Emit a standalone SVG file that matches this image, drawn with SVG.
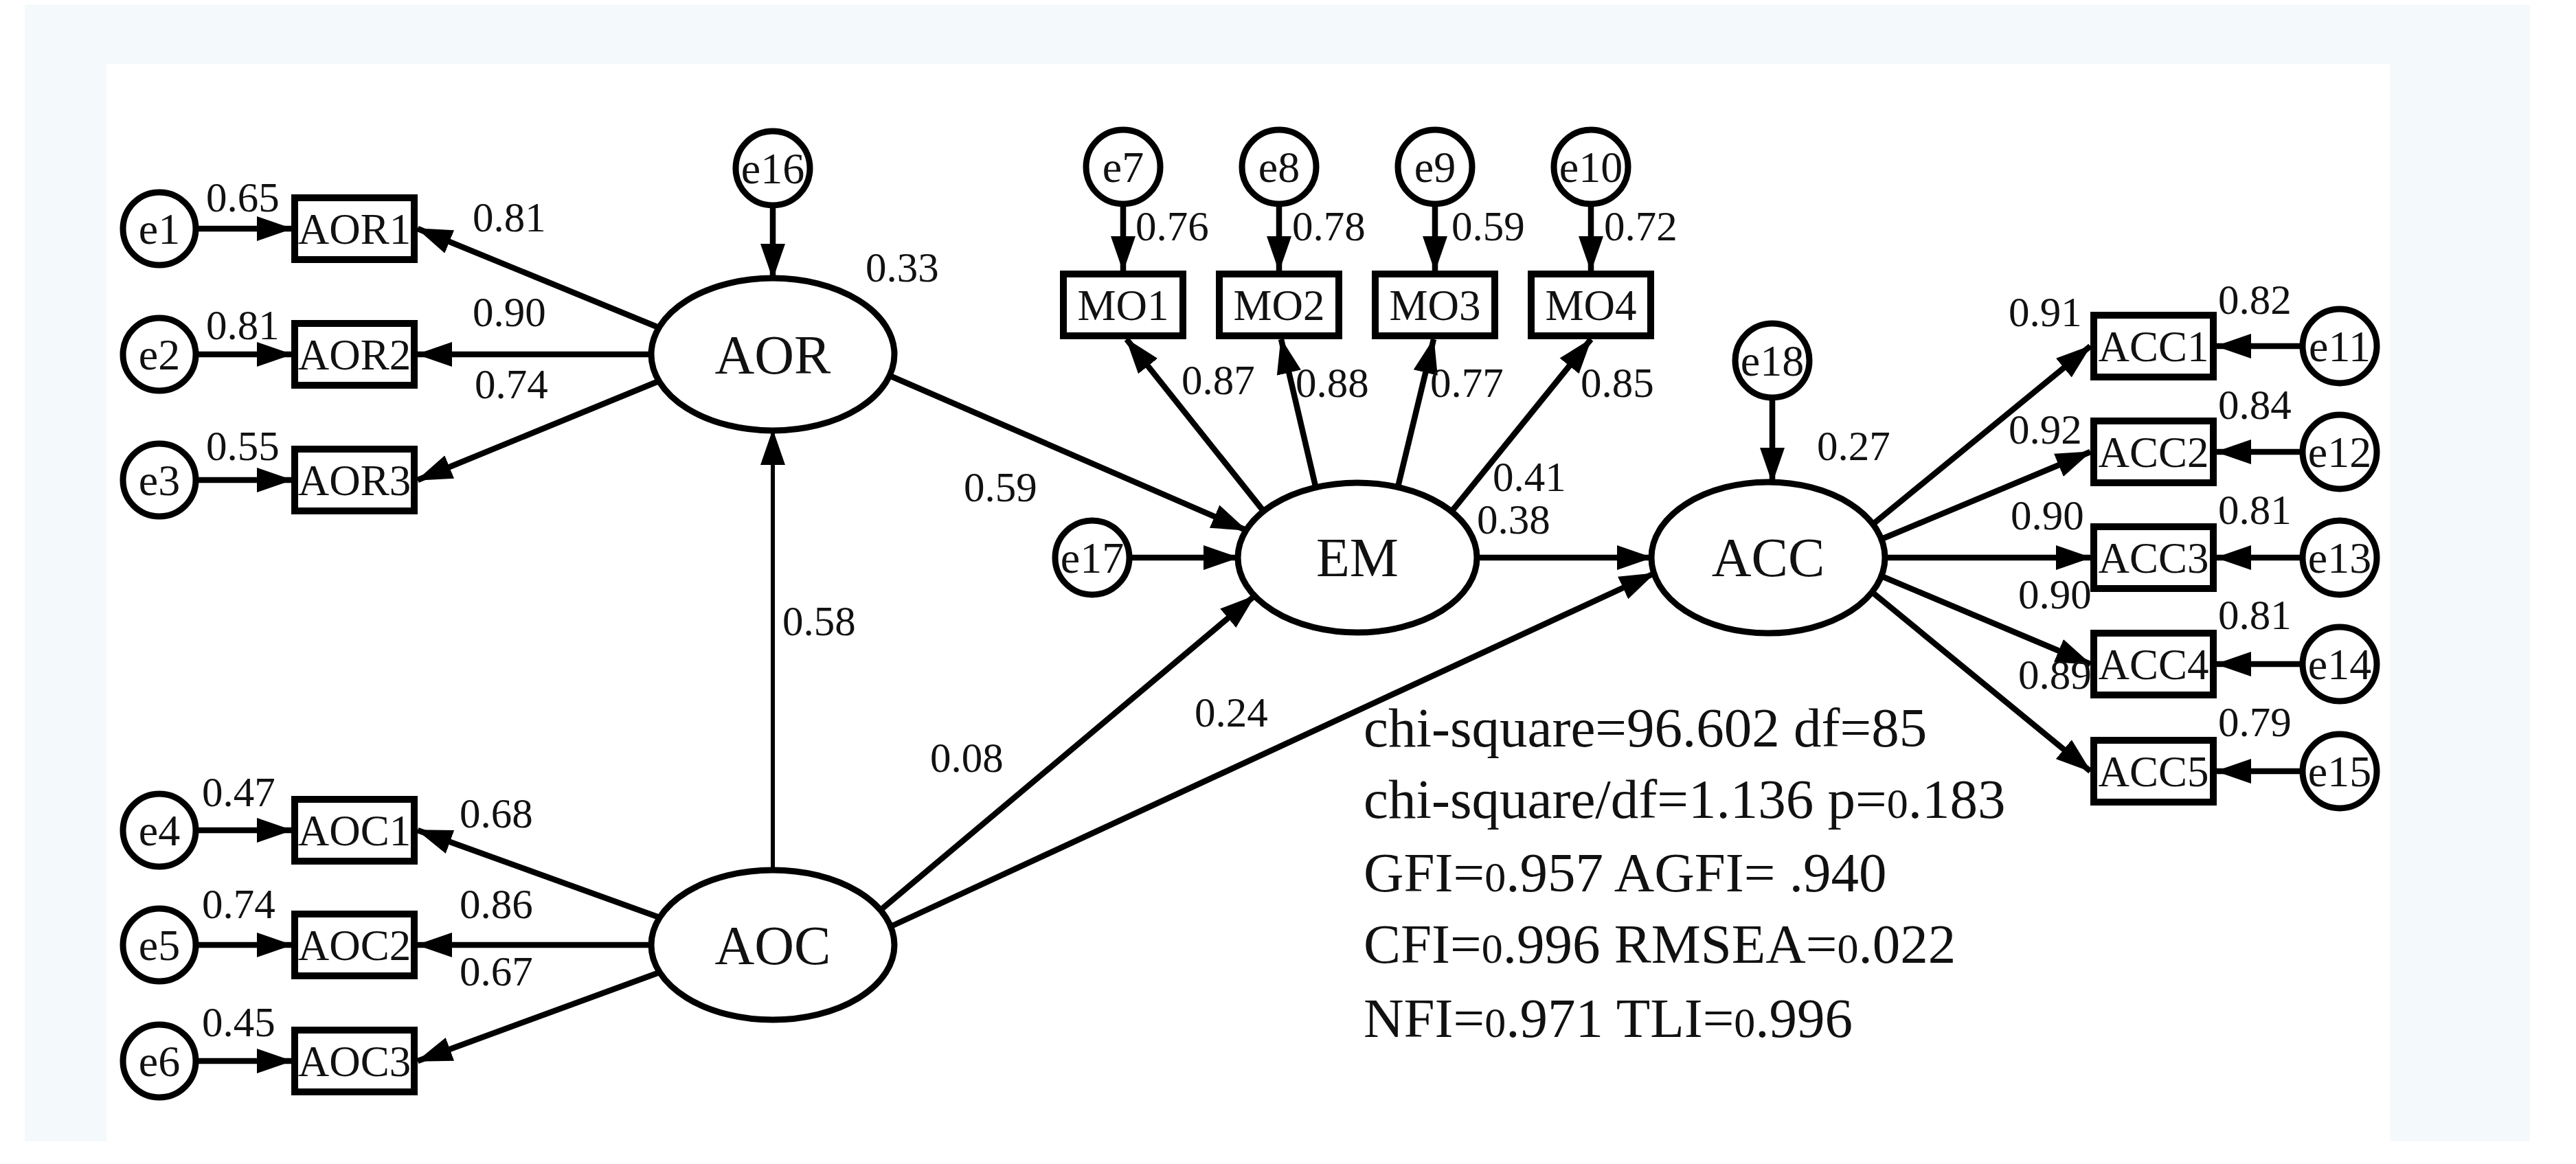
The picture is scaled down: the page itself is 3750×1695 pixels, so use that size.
<svg xmlns="http://www.w3.org/2000/svg" width="3750" height="1695" viewBox="0 0 3750 1695">
<defs>
<marker id="ah" markerUnits="userSpaceOnUse" markerWidth="52" markerHeight="38" refX="50" refY="19" orient="auto">
<path d="M0,1 L52,19 L0,37 z" fill="#000"/>
</marker>
<style>
text{font-family:"Liberation Serif","Times New Roman",serif;fill:#111}
.ev{font-size:64px;text-anchor:middle}
.bx{font-size:63px;text-anchor:middle}
.lt{font-size:80px;text-anchor:middle}
.n{font-size:61px}
.st{font-size:81px}
.sm{font-size:62px}
.c{fill:#fff;stroke:#000;stroke-width:9}
.r{fill:#fff;stroke:#000;stroke-width:10}
.el{fill:#fff;stroke:#000;stroke-width:9}
#conn line{stroke:#000;stroke-width:8.5;marker-end:url(#ah)}
</style>
</defs>
<rect width="3750" height="1695" fill="#fff"/>
<rect x="36" y="7" width="3647" height="1655" fill="#f4f9fc"/>
<rect x="155" y="93" width="3324" height="1602" fill="#fff"/>

<g id="conn">
<line x1="286" y1="333" x2="424" y2="333"/>
<line x1="286" y1="516" x2="424" y2="516"/>
<line x1="286" y1="699" x2="424" y2="699"/>
<line x1="286" y1="1209" x2="424" y2="1209"/>
<line x1="286" y1="1376" x2="424" y2="1376"/>
<line x1="286" y1="1545" x2="424" y2="1545"/>
<line x1="959" y1="477" x2="608" y2="333"/>
<line x1="948" y1="516" x2="608" y2="516"/>
<line x1="959" y1="555" x2="608" y2="699"/>
<line x1="960" y1="1336" x2="608" y2="1209"/>
<line x1="948" y1="1376" x2="608" y2="1376"/>
<line x1="960" y1="1416" x2="608" y2="1545"/>
<line x1="1125" y1="1267" x2="1125" y2="627" style="stroke-width:6"/>
<line x1="1125" y1="299" x2="1125" y2="405"/>
<line x1="1295" y1="547" x2="1814" y2="772"/>
<line x1="1644" y1="812" x2="1802" y2="812"/>
<line x1="1282" y1="1325" x2="1826" y2="868"/>
<line x1="1297" y1="1349" x2="2408" y2="835"/>
<line x1="2150" y1="812" x2="2404" y2="812"/>
<line x1="2580" y1="579" x2="2580" y2="702"/>
<line x1="2728" y1="762" x2="3043" y2="504"/>
<line x1="2739" y1="785" x2="3043" y2="658"/>
<line x1="2744" y1="812" x2="3043" y2="812"/>
<line x1="2739" y1="839" x2="3043" y2="967"/>
<line x1="2725" y1="862" x2="3043" y2="1123"/>
<line x1="3352" y1="504" x2="3227" y2="504"/>
<line x1="3352" y1="658" x2="3227" y2="658"/>
<line x1="3352" y1="812" x2="3227" y2="812"/>
<line x1="3352" y1="967" x2="3227" y2="967"/>
<line x1="3352" y1="1123" x2="3227" y2="1123"/>
<line x1="1840" y1="745" x2="1640" y2="494"/>
<line x1="1915" y1="708" x2="1865" y2="494"/>
<line x1="2035" y1="709" x2="2087" y2="494"/>
<line x1="2113" y1="745" x2="2316" y2="494"/>
<line x1="1635" y1="297" x2="1635" y2="394"/>
<line x1="1862" y1="297" x2="1862" y2="394"/>
<line x1="2089" y1="297" x2="2089" y2="394"/>
<line x1="2316" y1="297" x2="2316" y2="394"/>
</g>

<g id="e1"><circle class="c" cx="232" cy="333" r="53"/><text class="ev" x="232" y="355">e1</text></g>
<g id="e2"><circle class="c" cx="232" cy="516" r="53"/><text class="ev" x="232" y="538">e2</text></g>
<g id="e3"><circle class="c" cx="232" cy="699" r="53"/><text class="ev" x="232" y="721">e3</text></g>
<g id="e4"><circle class="c" cx="232" cy="1209" r="53"/><text class="ev" x="232" y="1231">e4</text></g>
<g id="e5"><circle class="c" cx="232" cy="1376" r="53"/><text class="ev" x="232" y="1398">e5</text></g>
<g id="e6"><circle class="c" cx="232" cy="1545" r="53"/><text class="ev" x="232" y="1567">e6</text></g>

<g id="AOR1"><rect class="r" x="429" y="288" width="174" height="90"/><text class="bx" x="516" y="355">AOR1</text></g>
<g id="AOR2"><rect class="r" x="429" y="471" width="174" height="90"/><text class="bx" x="516" y="538">AOR2</text></g>
<g id="AOR3"><rect class="r" x="429" y="654" width="174" height="90"/><text class="bx" x="516" y="721">AOR3</text></g>
<g id="AOC1"><rect class="r" x="429" y="1164" width="174" height="90"/><text class="bx" x="516" y="1231">AOC1</text></g>
<g id="AOC2"><rect class="r" x="429" y="1331" width="174" height="90"/><text class="bx" x="516" y="1398">AOC2</text></g>
<g id="AOC3"><rect class="r" x="429" y="1500" width="174" height="90"/><text class="bx" x="516" y="1567">AOC3</text></g>

<g id="AOR"><ellipse class="el" cx="1125" cy="516" rx="177" ry="111"/><text class="lt" x="1125" y="544">AOR</text></g>
<g id="AOC"><ellipse class="el" cx="1125" cy="1376" rx="177" ry="109"/><text class="lt" x="1125" y="1404">AOC</text></g>
<g id="e16"><circle class="c" cx="1125" cy="245" r="54"/><text class="ev" x="1125" y="267">e16</text></g>

<g id="MO1"><rect class="r" x="1548" y="399" width="174" height="90"/><text class="bx" x="1635" y="466">MO1</text></g>
<g id="MO2"><rect class="r" x="1775" y="399" width="174" height="90"/><text class="bx" x="1862" y="466">MO2</text></g>
<g id="MO3"><rect class="r" x="2002" y="399" width="174" height="90"/><text class="bx" x="2089" y="466">MO3</text></g>
<g id="MO4"><rect class="r" x="2229" y="399" width="174" height="90"/><text class="bx" x="2316" y="466">MO4</text></g>
<g id="e7"><circle class="c" cx="1635" cy="243" r="54"/><text class="ev" x="1635" y="265">e7</text></g>
<g id="e8"><circle class="c" cx="1862" cy="243" r="54"/><text class="ev" x="1862" y="265">e8</text></g>
<g id="e9"><circle class="c" cx="2089" cy="243" r="54"/><text class="ev" x="2089" y="265">e9</text></g>
<g id="e10"><circle class="c" cx="2316" cy="243" r="54"/><text class="ev" x="2316" y="265">e10</text></g>

<g id="EM"><ellipse class="el" cx="1976" cy="812" rx="174" ry="109"/><text class="lt" x="1976" y="839">EM</text></g>
<g id="e17"><circle class="c" cx="1590" cy="812" r="54"/><text class="ev" x="1590" y="834">e17</text></g>
<g id="ACC"><ellipse class="el" cx="2574" cy="812" rx="170" ry="110"/><text class="lt" x="2574" y="839">ACC</text></g>
<g id="e18"><circle class="c" cx="2580" cy="525" r="54"/><text class="ev" x="2580" y="547">e18</text></g>

<g id="ACC1"><rect class="r" x="3048" y="459" width="174" height="90"/><text class="bx" x="3135" y="526">ACC1</text></g>
<g id="ACC2"><rect class="r" x="3048" y="613" width="174" height="90"/><text class="bx" x="3135" y="680">ACC2</text></g>
<g id="ACC3"><rect class="r" x="3048" y="767" width="174" height="90"/><text class="bx" x="3135" y="834">ACC3</text></g>
<g id="ACC4"><rect class="r" x="3048" y="922" width="174" height="90"/><text class="bx" x="3135" y="989">ACC4</text></g>
<g id="ACC5"><rect class="r" x="3048" y="1078" width="174" height="90"/><text class="bx" x="3135" y="1145">ACC5</text></g>
<g id="e11"><circle class="c" cx="3406" cy="504" r="54"/><text class="ev" x="3406" y="526">e11</text></g>
<g id="e12"><circle class="c" cx="3406" cy="658" r="54"/><text class="ev" x="3406" y="680">e12</text></g>
<g id="e13"><circle class="c" cx="3406" cy="812" r="54"/><text class="ev" x="3406" y="834">e13</text></g>
<g id="e14"><circle class="c" cx="3406" cy="967" r="54"/><text class="ev" x="3406" y="989">e14</text></g>
<g id="e15"><circle class="c" cx="3406" cy="1123" r="54"/><text class="ev" x="3406" y="1145">e15</text></g>

<g id="labels">
<text class="n" x="300" y="308">0.65</text>
<text class="n" x="300" y="494">0.81</text>
<text class="n" x="300" y="670">0.55</text>
<text class="n" x="688" y="337">0.81</text>
<text class="n" x="688" y="475">0.90</text>
<text class="n" x="691" y="580">0.74</text>
<text class="n" x="294" y="1174">0.47</text>
<text class="n" x="294" y="1337">0.74</text>
<text class="n" x="294" y="1509">0.45</text>
<text class="n" x="669" y="1205">0.68</text>
<text class="n" x="669" y="1337">0.86</text>
<text class="n" x="669" y="1435">0.67</text>
<text class="n" x="1260" y="410">0.33</text>
<text class="n" x="1139" y="925">0.58</text>
<text class="n" x="1403" y="730">0.59</text>
<text class="n" x="1354" y="1124">0.08</text>
<text class="n" x="1739" y="1058">0.24</text>
<text class="n" x="1653" y="350">0.76</text>
<text class="n" x="1881" y="350">0.78</text>
<text class="n" x="2113" y="350">0.59</text>
<text class="n" x="2335" y="350">0.72</text>
<text class="n" x="1720" y="574">0.87</text>
<text class="n" x="1886" y="578">0.88</text>
<text class="n" x="2082" y="578">0.77</text>
<text class="n" x="2301" y="578">0.85</text>
<text class="n" x="2173" y="715">0.41</text>
<text class="n" x="2150" y="777">0.38</text>
<text class="n" x="2645" y="670">0.27</text>
<text class="n" x="2924" y="475">0.91</text>
<text class="n" x="2924" y="646">0.92</text>
<text class="n" x="2927" y="771">0.90</text>
<text class="n" x="2938" y="886">0.90</text>
<text class="n" x="2938" y="1003">0.89</text>
<text class="n" x="3229" y="457">0.82</text>
<text class="n" x="3229" y="610">0.84</text>
<text class="n" x="3229" y="763">0.81</text>
<text class="n" x="3229" y="916">0.81</text>
<text class="n" x="3229" y="1072">0.79</text>
</g>

<g id="fit">
<text class="st" x="1985" y="1087">chi-square=96.602 df=85</text>
<text class="st" x="1985" y="1191">chi-square/df=1.136 p=<tspan class="sm">0</tspan>.183</text>
<text class="st" x="1985" y="1298">GFI=<tspan class="sm">0</tspan>.957 AGFI=  .940</text>
<text class="st" x="1985" y="1402">CFI=<tspan class="sm">0</tspan>.996 RMSEA=<tspan class="sm">0</tspan>.022</text>
<text class="st" x="1985" y="1510">NFI=<tspan class="sm">0</tspan>.971 TLI=<tspan class="sm">0</tspan>.996</text>
</g>
</svg>
